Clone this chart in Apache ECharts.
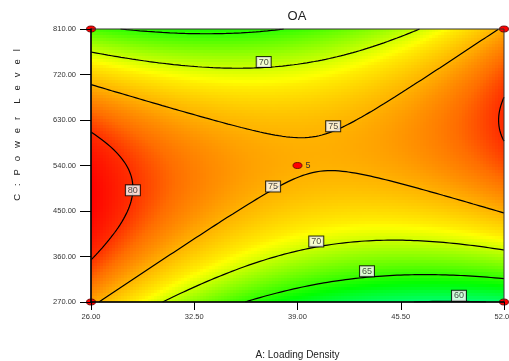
<!DOCTYPE html>
<html>
<head>
<meta charset="utf-8">
<script src="https://cdn.jsdelivr.net/npm/echarts@6/dist/echarts.min.js"></script>
<style>
html, body { margin: 0; padding: 0; background: #ffffff; }
#chart { width: 509px; height: 361px; }
</style>
</head>
<body>
<div id="chart"></div>
<script>
// Contour plot of OA over A (Loading Density) and C (Power Level)
const titleText = 'OA';
const xAxisName = 'A: Loading Density';
const yAxisName = 'C   :   P   o   w   e   r     L   e   v   e   l';
const loadingDensityRange = [26, 52];
const powerLevelRange = [270, 810];
const xTickStep = 6.5;
const yTickStep = 90;

// Fitted quadratic model in coded units (x = A, z = C):
// terms: intercept, A, C, AC, A^2, C^2
const modelTerms = ['1', 'A', 'C', 'AC', 'A2', 'C2'];
const modelCoefficients = [75.2, -1.45, 1.3, 6.3, 5.25, -11.2];

const contourLevels = [60, 65, 70, 75, 80];

// Design points and their replicate counts
const designA = [26, 26, 52, 52, 39];
const designC = [270, 810, 270, 810, 540];
const designRuns = [1, 1, 1, 1, 5];

// Where each contour value tag sits along its line
const labelLevels = [70, 75, 75, 80, 70, 65, 60];
const labelNearA = [36.8, 41.0, 37.4, 28.7, 40.1, 43.3, 49.2];
const labelNearC = [748, 623, 498, 490, 386, 327, 282];
const labelShiftY = [-5.5, -5, -3, 0, -5.5, -6, -5.5];

// Colour ramp anchors (value -> hue in degrees)
const rampValues = [58, 60, 65, 67, 70, 72, 75, 78, 80, 82.4, 84];
const rampHues = [158, 146, 109, 94, 72, 56, 42, 26, 11, 0, 0];

const FONT_NARROW = "'Liberation Sans Narrow', 'Liberation Sans', Arial, sans-serif";
const FONT_REG = "'Liberation Sans', Arial, sans-serif";

const aMin = loadingDensityRange[0], aMax = loadingDensityRange[1];
const cMin = powerLevelRange[0], cMax = powerLevelRange[1];
const aMid = (aMin + aMax) / 2, aHalf = (aMax - aMin) / 2;
const cMid = (cMin + cMax) / 2, cHalf = (cMax - cMin) / 2;

function predictOA(a, c) {
  const x = (a - aMid) / aHalf;
  const z = (c - cMid) / cHalf;
  const b = modelCoefficients;
  return b[0] + b[1] * x + b[2] * z + b[3] * x * z + b[4] * x * x + b[5] * z * z;
}

// Colour ramp
function hueAt(v) {
  if (v <= rampValues[0]) return rampHues[0];
  for (let i = 1; i < rampValues.length; i++) {
    if (v <= rampValues[i]) {
      const t = (v - rampValues[i - 1]) / (rampValues[i] - rampValues[i - 1]);
      return rampHues[i - 1] + (rampHues[i] - rampHues[i - 1]) * t;
    }
  }
  return rampHues[rampHues.length - 1];
}
function hueToHex(h) {
  const f = (n) => {
    const k = (n + h / 60) % 6;
    const v = 1 - Math.max(0, Math.min(k, 4 - k, 1));
    return Math.round(v * 255);
  };
  return '#' + [f(5), f(3), f(1)].map(c => c.toString(16).padStart(2, '0')).join('');
}
const rampMin = rampValues[0], rampMax = rampValues[rampValues.length - 1];
const rampColors = [];
for (let v = rampMin; v <= rampMax + 1e-9; v += 0.25) rampColors.push(hueToHex(hueAt(v)));

// Surface cells
const cellCols = 137, cellRows = 91;
const cells = [];
for (let i = 0; i < cellCols; i++) {
  const a0 = aMin + (aMax - aMin) * i / cellCols;
  const a1 = aMin + (aMax - aMin) * (i + 1) / cellCols;
  for (let j = 0; j < cellRows; j++) {
    const c0 = cMin + (cMax - cMin) * j / cellRows;
    const c1 = cMin + (cMax - cMin) * (j + 1) / cellRows;
    cells.push([a0, c0, a1, c1, predictOA((a0 + a1) / 2, (c0 + c1) / 2)]);
  }
}

// Contour tracing (marching squares with chaining)
function traceContours(level, nx, nz) {
  const aAt = i => aMin + (aMax - aMin) * i / nx;
  const cAt = j => cMin + (cMax - cMin) * j / nz;
  const g = [];
  for (let i = 0; i <= nx; i++) {
    const row = [];
    for (let j = 0; j <= nz; j++) row.push(predictOA(aAt(i), cAt(j)) - level);
    g.push(row);
  }
  const pts = new Map(), adj = new Map();
  const link = (k1, k2) => {
    if (!adj.has(k1)) adj.set(k1, []);
    if (!adj.has(k2)) adj.set(k2, []);
    adj.get(k1).push(k2);
    adj.get(k2).push(k1);
  };
  const cross = (key, i1, j1, i2, j2) => {
    if (!pts.has(key)) {
      const v1 = g[i1][j1], v2 = g[i2][j2];
      const t = v1 / (v1 - v2);
      pts.set(key, [aAt(i1) + (aAt(i2) - aAt(i1)) * t, cAt(j1) + (cAt(j2) - cAt(j1)) * t]);
    }
    return key;
  };
  for (let i = 0; i < nx; i++) {
    for (let j = 0; j < nz; j++) {
      const v00 = g[i][j], v10 = g[i + 1][j], v11 = g[i + 1][j + 1], v01 = g[i][j + 1];
      const s00 = v00 > 0, s10 = v10 > 0, s11 = v11 > 0, s01 = v01 > 0;
      const bottom = s00 !== s10 ? cross('h' + i + '_' + j, i, j, i + 1, j) : null;
      const right = s10 !== s11 ? cross('v' + (i + 1) + '_' + j, i + 1, j, i + 1, j + 1) : null;
      const top = s01 !== s11 ? cross('h' + i + '_' + (j + 1), i, j + 1, i + 1, j + 1) : null;
      const left = s00 !== s01 ? cross('v' + i + '_' + j, i, j, i, j + 1) : null;
      const list = [bottom, right, top, left].filter(k => k !== null);
      if (list.length === 2) {
        link(list[0], list[1]);
      } else if (list.length === 4) {
        const centre = (v00 + v10 + v11 + v01) / 4 > 0;
        if (centre === s00) { link(bottom, right); link(top, left); }
        else { link(left, bottom); link(right, top); }
      }
    }
  }
  const used = new Set();
  const lines = [];
  const walk = (start) => {
    const line = [pts.get(start)];
    used.add(start);
    let cur = start;
    for (;;) {
      const next = (adj.get(cur) || []).find(k => !used.has(k));
      if (next === undefined) break;
      used.add(next);
      line.push(pts.get(next));
      cur = next;
    }
    return line;
  };
  for (const [k, nb] of adj) if (nb.length === 1 && !used.has(k)) lines.push(walk(k));
  for (const k of adj.keys()) {
    if (!used.has(k)) { const l = walk(k); l.push(l[0]); lines.push(l); }
  }
  return lines;
}

const contourLines = {};
contourLevels.forEach(L => { contourLines[L] = traceContours(L, 220, 220); });

// Contour tag positions, snapped onto the traced lines
const tagData = labelLevels.map((L, i) => {
  let best = null, bestD = Infinity;
  (contourLines[L] || []).forEach(line => line.forEach(p => {
    const dx = (p[0] - labelNearA[i]) / (aMax - aMin) * 412;
    const dy = (p[1] - labelNearC[i]) / (cMax - cMin) * 272;
    const d = dx * dx + dy * dy;
    if (d < bestD) { bestD = d; best = p; }
  }));
  return { value: [best[0], best[1], L], label: { offset: [0, labelShiftY[i]] } };
});

const series = [];
series.push({
  type: 'custom',
  coordinateSystem: 'cartesian2d',
  data: cells,
  encode: { x: [0, 2], y: [1, 3] },
  silent: true,
  animation: false,
  progressive: 0,
  z: 1,
  renderItem: (params, api) => {
    const p0 = api.coord([api.value(0), api.value(1)]);
    const p1 = api.coord([api.value(2), api.value(3)]);
    const x0 = Math.round(Math.min(p0[0], p1[0])), x1 = Math.round(Math.max(p0[0], p1[0]));
    const y0 = Math.round(Math.min(p0[1], p1[1])), y1 = Math.round(Math.max(p0[1], p1[1]));
    return {
      type: 'rect',
      shape: { x: x0, y: y0, width: x1 - x0, height: y1 - y0 },
      style: { fill: api.visual('color') }
    };
  }
});

contourLevels.forEach(L => {
  contourLines[L].forEach(line => {
    series.push({
      type: 'line',
      data: line,
      showSymbol: false,
      symbol: 'none',
      silent: true,
      animation: false,
      z: 3,
      lineStyle: { color: '#000000', width: 1.2 }
    });
  });
});

series.push({
  type: 'scatter',
  data: tagData,
  symbolSize: 1,
  itemStyle: { color: 'rgba(0,0,0,0)' },
  silent: true,
  animation: false,
  z: 5,
  label: {
    show: true,
    position: 'inside',
    formatter: p => String(p.value[2]),
    fontFamily: FONT_NARROW,
    fontSize: 9,
    lineHeight: 9,
    color: '#222',
    backgroundColor: '#ffffff',
    borderColor: '#000000',
    borderWidth: 1,
    padding: [1, 2, 0, 2]
  }
});

series.push({
  type: 'scatter',
  clip: false,
  data: designA.map((a, i) => ({
    value: [a, designC[i], designRuns[i]],
    label: { show: designRuns[i] > 1 }
  })),
  symbol: 'path://M0,10 A10,10 0 1,1 20,10 A10,10 0 1,1 0,10 Z',
  symbolSize: [9, 6],
  silent: true,
  animation: false,
  z: 6,
  itemStyle: { color: '#ff0000', borderColor: '#5a0000', borderWidth: 0.8, opacity: 1 },
  label: {
    position: 'right',
    distance: 3,
    formatter: p => String(p.value[2]),
    fontFamily: FONT_REG,
    fontSize: 9,
    color: '#333'
  }
});

const chart = echarts.init(document.getElementById('chart'), null, { renderer: 'canvas', width: 509, height: 361 });
chart.setOption({
  animation: false,
  backgroundColor: '#ffffff',
  title: {
    text: titleText,
    left: 297,
    top: 10,
    padding: 0,
    textAlign: 'center',
    textStyle: { fontFamily: FONT_REG, fontSize: 13, fontWeight: 'normal', color: '#222' }
  },
  grid: {
    left: 91, right: 5, top: 29, bottom: 59,
    show: true,
    z: 8,
    backgroundColor: 'transparent',
    borderColor: '#333',
    borderWidth: 1,
    outerBoundsMode: 'none',
    containLabel: false
  },
  visualMap: {
    show: false,
    type: 'continuous',
    min: rampMin,
    max: rampMax,
    dimension: 4,
    seriesIndex: 0,
    inRange: { color: rampColors }
  },
  xAxis: {
    type: 'value',
    min: aMin,
    max: aMax,
    interval: xTickStep,
    z: 9,
    splitLine: { show: false },
    axisLine: { show: true, onZero: false, lineStyle: { color: '#000', width: 1.5 } },
    axisTick: { show: true, length: 8, lineStyle: { color: '#000', width: 1 } },
    axisLabel: {
      formatter: v => v.toFixed(2),
      fontFamily: FONT_NARROW, fontSize: 7.5, color: '#333', margin: 11,
      showMinLabel: true, showMaxLabel: true, hideOverlap: false
    },
    name: xAxisName,
    nameLocation: 'middle',
    nameGap: 48,
    nameTextStyle: { fontFamily: FONT_NARROW, fontSize: 10, color: '#222' }
  },
  yAxis: {
    type: 'value',
    min: cMin,
    max: cMax,
    interval: yTickStep,
    z: 9,
    splitLine: { show: false },
    axisLine: { show: true, onZero: false, lineStyle: { color: '#000', width: 1.5 } },
    axisTick: { show: true, length: 11, lineStyle: { color: '#000', width: 1 } },
    axisLabel: {
      formatter: v => v.toFixed(2),
      fontFamily: FONT_NARROW, fontSize: 7.5, color: '#333', margin: 15,
      showMinLabel: true, showMaxLabel: true, hideOverlap: false
    }
  },
  graphic: [{
    type: 'text',
    x: 17,
    y: 125,
    rotation: Math.PI / 2,
    silent: true,
    style: {
      text: yAxisName,
      fontFamily: FONT_REG,
      fontSize: 9.5,
      fill: '#222',
      align: 'center',
      verticalAlign: 'middle'
    }
  }],
  series: series
});
</script>
</body>
</html>
